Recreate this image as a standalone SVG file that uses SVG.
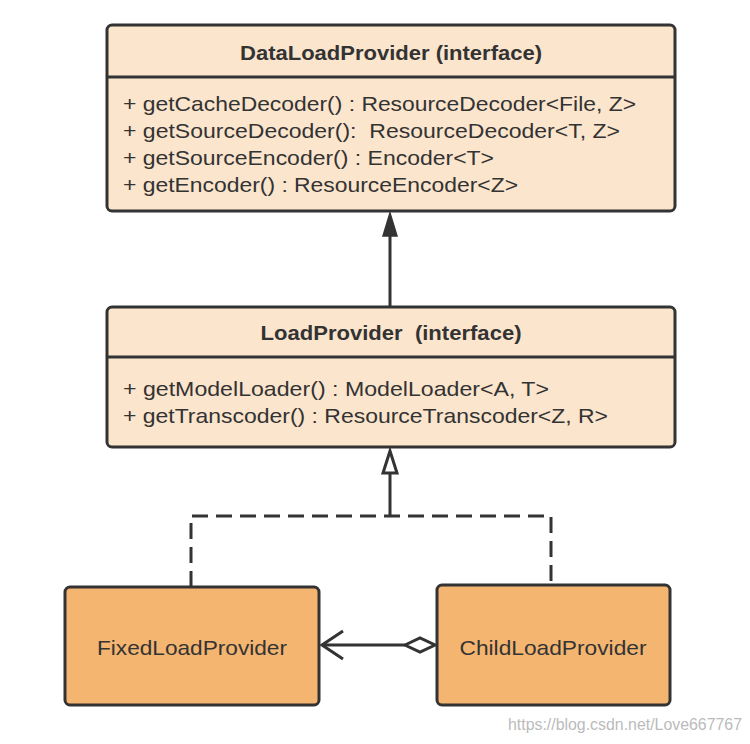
<svg xmlns="http://www.w3.org/2000/svg" width="750" height="744" viewBox="0 0 750 744">
<style>
.box{fill:#fbe5cd;stroke:#333;stroke-width:3}
.cls{fill:#f4b571;stroke:#333;stroke-width:3}
.div{stroke:#333;stroke-width:3}
.t{font-family:"Liberation Sans",Arial,sans-serif;font-size:20px;font-weight:bold;fill:#333;text-anchor:middle}
.m{font-family:"Liberation Sans",Arial,sans-serif;font-size:21px;fill:#333}
.n{font-family:"Liberation Sans",Arial,sans-serif;font-size:21px;fill:#333;text-anchor:middle}
.ln{fill:none;stroke:#333;stroke-width:3}
.dash{fill:none;stroke:#333;stroke-width:3;stroke-dasharray:16 8}
</style>
<rect width="750" height="744" fill="#fff"/>
<g id="connectors">
<line class="ln" x1="390" y1="307" x2="390" y2="230"/>
<polygon points="390,213 383,236 397,236" fill="#333" stroke="#333" stroke-width="1.5"/>
<line class="ln" x1="390" y1="474" x2="390" y2="516"/>
<polygon points="390,451 383,473 397,473" fill="#fff" stroke="#333" stroke-width="3"/>
<path class="dash" d="M191,587 V516 H551 V585"/>
<line class="ln" x1="323" y1="645" x2="405" y2="645"/>
<polyline class="ln" points="343,631 322,645 343,659"/>
<polygon points="405,645 420,638 435,645 420,652" fill="#fff" stroke="#333" stroke-width="3"/>
</g>
<g id="DataLoadProvider">
<rect class="box" x="107" y="25" width="568" height="186" rx="5"/>
<line class="div" x1="107" y1="77" x2="675" y2="77"/>
<text class="t" x="391" y="60" textLength="302" lengthAdjust="spacingAndGlyphs">DataLoadProvider (interface)</text>
<text class="m" x="123" y="111" textLength="513" lengthAdjust="spacingAndGlyphs">+ getCacheDecoder() : ResourceDecoder&lt;File, Z&gt;</text>
<text class="m" x="123" y="138" xml:space="preserve" textLength="497" lengthAdjust="spacingAndGlyphs">+ getSourceDecoder():  ResourceDecoder&lt;T, Z&gt;</text>
<text class="m" x="123" y="165" textLength="371" lengthAdjust="spacingAndGlyphs">+ getSourceEncoder() : Encoder&lt;T&gt;</text>
<text class="m" x="123" y="192" textLength="395" lengthAdjust="spacingAndGlyphs">+ getEncoder() : ResourceEncoder&lt;Z&gt;</text>
</g>
<g id="LoadProvider">
<rect class="box" x="107" y="307" width="568" height="140" rx="5"/>
<line class="div" x1="107" y1="357" x2="675" y2="357"/>
<text class="t" x="391" y="340" xml:space="preserve" textLength="261" lengthAdjust="spacingAndGlyphs">LoadProvider  (interface)</text>
<text class="m" x="123" y="396" textLength="426" lengthAdjust="spacingAndGlyphs">+ getModelLoader() : ModelLoader&lt;A, T&gt;</text>
<text class="m" x="123" y="423" textLength="485" lengthAdjust="spacingAndGlyphs">+ getTranscoder() : ResourceTranscoder&lt;Z, R&gt;</text>
</g>
<g id="FixedLoadProvider">
<rect class="cls" x="65" y="587" width="254" height="118" rx="5"/>
<text class="n" x="192" y="655" textLength="190" lengthAdjust="spacingAndGlyphs">FixedLoadProvider</text>
</g>
<g id="ChildLoadProvider">
<rect class="cls" x="437" y="585" width="233" height="120" rx="5"/>
<text class="n" x="553" y="655" textLength="187" lengthAdjust="spacingAndGlyphs">ChildLoadProvider</text>
</g>
<text x="742" y="730" font-family="'Liberation Sans',sans-serif" font-size="16" fill="#bbb" text-anchor="end" textLength="234" lengthAdjust="spacingAndGlyphs">https://blog.csdn.net/Love667767</text>
</svg>
